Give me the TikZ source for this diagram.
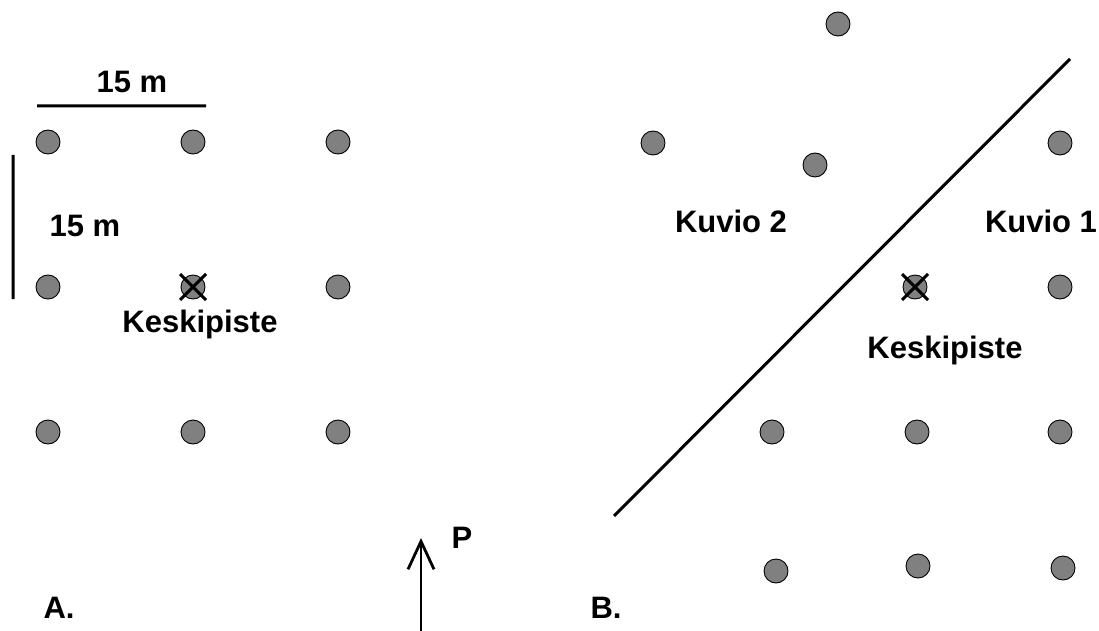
\documentclass[tikz,border=0pt]{standalone}
\usepackage{fontspec}
\setmainfont{Liberation Sans}
\usetikzlibrary{arrows.meta}
\tikzstyle{puu}=[fill={rgb,255:red,128;green,128;blue,128},draw=black,line width=0.9pt,circle,inner sep=0,minimum size=24pt]
\tikzstyle{teksti}=[font=\fontsize{31}{35}\selectfont\bfseries,anchor=base,inner sep=0]
\tikzstyle{viiva}=[line width=3pt]

\begin{document}
\begin{tikzpicture}[x=1pt,y=-1pt]
	\useasboundingbox (0,0) rectangle (1099,631);

                        % A
                        \node[puu] (a1) at (48,142) {};
                        \node[puu] (a2) at (193,142) {};
                        \node[puu] (a3) at (338,142) {};
                        \node[puu] (a4) at (48,287) {};
                        \node[puu] (a5) at (193,287) {};
                        \node[puu] (a6) at (338,287) {};
                        \node[puu] (a7) at (48,432) {};
                        \node[puu] (a8) at (193,432) {};
                        \node[puu] (a9) at (338,432) {};

                        % B
                        \node[puu] (b1) at (838,24) {};
                        \node[puu] (b2) at (653,143) {};
                        \node[puu] (b3) at (815,165) {};
                        \node[puu] (b4) at (1060,143) {};
                        \node[puu] (b5) at (915,287) {};
                        \node[puu] (b6) at (1060,287) {};
                        \node[puu] (b7) at (772,432) {};
                        \node[puu] (b8) at (917,432) {};
                        \node[puu] (b9) at (1060,432) {};
                        \node[puu] (b10) at (776,571) {};
                        \node[puu] (b11) at (918,566) {};
                        \node[puu] (b12) at (1063,568) {};

                        \coordinate (h1) at (37,106);
                        \coordinate (h2) at (206,106);
                        \coordinate (v1) at (13,155);
                        \coordinate (v2) at (13,299);
                        \coordinate (r1) at (614,516);
                        \coordinate (r2) at (1070,59);
                        \coordinate (p0) at (421,631);
                        \coordinate (p1) at (421,538);

                        \node[teksti] (m1) at (132,93) {15 m};
                        \node[teksti] (m2) at (85,236) {15 m};
                        \node[teksti] (ka) at (200,332) {Keskipiste};
                        \node[teksti] (kb) at (945,358) {Keskipiste};
                        \node[teksti] (k2) at (731,232) {Kuvio 2};
                        \node[teksti] (k1) at (1041,232) {Kuvio 1};
                        \node[teksti] (la) at (59,618) {A.};
                        \node[teksti] (lb) at (606,618) {B.};
                        \node[teksti] (lp) at (462,548) {P};

                        \draw[viiva]
                        (h1) -- (h2)
                        (v1) -- (v2)
                        (r1) -- (r2)
                        (a5.center) ++(-13,-13) -- ++(26,26)
                        (a5.center) ++(13,-13) -- ++(-26,26)
                        (b5.center) ++(-13,-13) -- ++(26,26)
                        (b5.center) ++(13,-13) -- ++(-26,26)
                        ;
                        \draw[viiva,line width=2.6pt,-{Straight Barb[length=28pt,width=26pt,line width=2.8pt]}] (p0) -- (p1);

    \end{tikzpicture}
\end{document}
